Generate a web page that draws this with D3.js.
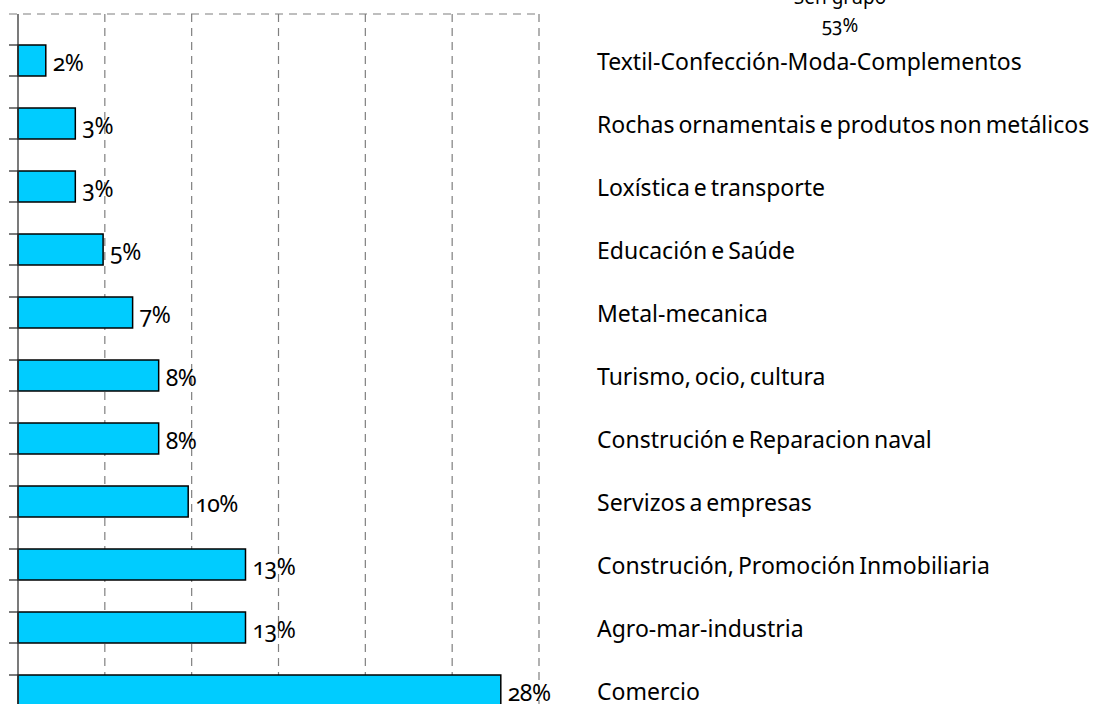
<!DOCTYPE html>
<html>
<head>
<meta charset="utf-8">
<script src="https://cdn.jsdelivr.net/npm/d3@7"></script>
<style>
  html, body { margin: 0; padding: 0; background: #fff; }
  svg { display: block; }
  text { font-family: "Noto Sans", Lato, sans-serif; font-variant-numeric: oldstyle-nums; fill: #000; }
</style>
</head>
<body>
<svg id="chart" width="1108" height="704"></svg>
<script>
(function() {

  var categories = [
    'Textil-Confección-Moda-Complementos',
    'Rochas ornamentais e produtos non metálicos',
    'Loxística e transporte',
    'Educación e Saúde',
    'Metal-mecanica',
    'Turismo, ocio, cultura',
    'Construción e Reparacion naval',
    'Servizos a empresas',
    'Construción, Promoción Inmobiliaria',
    'Agro-mar-industria',
    'Comercio'
  ];
  var values = [1.6, 3.3, 3.3, 4.9, 6.6, 8.1, 8.1, 9.8, 13.1, 13.1, 27.8];
  var xTicks = [0, 5, 10, 15, 20, 25, 30];
  var topLabel = ['Sen grupo', '53%'];

  var svg = d3.select('#chart');
  var topY = 14;

  var x = d3.scaleLinear().domain([0, 30]).range([18, 539]);
  var pad = 0.508;
  var y = d3.scaleBand()
    .domain(categories)
    .range([29, 29 + 63 * categories.length])
    .paddingInner(pad)
    .paddingOuter(pad / 2);

  // dashed grid
  var grid = svg.append('g')
    .attr('stroke', '#7f7f7f')
    .attr('stroke-width', 1.2)
    .attr('stroke-dasharray', '8,6');

  grid.selectAll('line.v')
    .data(xTicks.slice(1))
    .enter().append('line')
    .attr('class', 'v')
    .attr('x1', function(d) { return x(d); })
    .attr('x2', function(d) { return x(d); })
    .attr('y1', topY)
    .attr('y2', 704);

  grid.append('line')
    .attr('x1', 9)
    .attr('x2', x(30))
    .attr('y1', topY)
    .attr('y2', topY);

  // bars
  svg.append('g').selectAll('rect')
    .data(values)
    .enter().append('rect')
    .attr('x', x(0))
    .attr('y', function(d, i) { return y(categories[i]); })
    .attr('width', function(d) { return x(d) - x(0); })
    .attr('height', y.bandwidth())
    .attr('fill', '#00ccff')
    .attr('stroke', '#000')
    .attr('stroke-width', 1.5);

  // axis line + ticks at bar edges
  var ax = svg.append('g').attr('stroke', '#333').attr('stroke-width', 1.3);
  ax.append('line')
    .attr('x1', x(0)).attr('x2', x(0))
    .attr('y1', topY).attr('y2', 704);

  var edges = [];
  categories.forEach(function(c) {
    edges.push(y(c));
    edges.push(y(c) + y.bandwidth());
  });
  ax.selectAll('line.t')
    .data(edges)
    .enter().append('line')
    .attr('class', 't')
    .attr('x1', 9).attr('x2', x(0))
    .attr('y1', function(d) { return d; })
    .attr('y2', function(d) { return d; });

  // value labels
  svg.append('g').selectAll('text')
    .data(values)
    .enter().append('text')
    .attr('x', function(d) { return x(d) + 7; })
    .attr('y', function(d, i) { return y(categories[i]) + y.bandwidth() / 2; })
    .attr('dy', '0.44em')
    .style('font-size', '23px')
    .style('letter-spacing', '-0.5px')
    .text(function(d) { return Math.round(d) + '%'; });

  // category labels
  svg.append('g').selectAll('text')
    .data(categories)
    .enter().append('text')
    .attr('x', 597)
    .attr('y', function(d) { return y(d) + y.bandwidth() / 2; })
    .attr('dy', '0.42em')
    .style('font-size', '23px')
    .style('word-spacing', '-2px')
    .text(function(d) { return d; });

  // label cut at the top edge, as in the source
  svg.append('text')
    .attr('x', 840).attr('y', 4)
    .attr('text-anchor', 'middle')
    .style('font-size', '19px')
    .text(topLabel[0]);
  svg.append('text')
    .attr('x', 840).attr('y', 32)
    .attr('text-anchor', 'middle')
    .style('font-size', '19px')
    .text(topLabel[1]);
})();
</script>
</body>
</html>
